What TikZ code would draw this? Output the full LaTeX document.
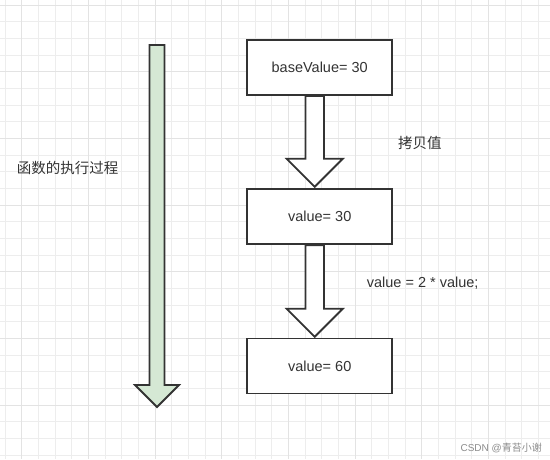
\documentclass[tikz,border=0pt]{standalone}
\usepackage{fontspec}
\setmainfont{Liberation Sans}
\newfontfamily\cjk{Noto Sans CJK SC}
\usetikzlibrary{calc}
\definecolor{flowgreen}{HTML}{D5E8D4}
\definecolor{inkgray}{HTML}{333333}

\newcommand{\blockarrow}[5]{%
  \draw[#1] ($(#2)+(-#4,0)$) -- ($(#3)+(-#4,-#5)$) -- ($(#3)+(-#5,-#5)$) -- (#3)
    -- ($(#3)+(#5,-#5)$) -- ($(#3)+(#4,-#5)$) -- ($(#2)+(#4,0)$) -- cycle;}

\begin{document}
\begin{tikzpicture}[x=1pt,y=-1pt,
  gridline/.style={draw=black!7,line width=0.9pt},
  majorline/.style={draw=black!11,line width=0.9pt},
  valbox/.style={draw=inkgray,line width=1.8pt,fill=white,minimum width=145pt,
    minimum height=55pt,inner sep=0pt,text=inkgray,font=\fontsize{14.5}{17}\selectfont},
  note/.style={anchor=west,inner sep=0pt,text=inkgray,font=\fontsize{14.5}{17}\selectfont},
  hollow/.style={draw=inkgray,line width=1.8pt,fill=white,line join=miter},
  timeline/.style={draw=inkgray,line width=1.8pt,fill=flowgreen,line join=miter}]
  \useasboundingbox (0,0) rectangle (550,459);
  \fill[white] (0,0) rectangle (550,459);
  \foreach \i in {0,...,32} \draw[gridline] (5+16.667*\i,0) -- (5+16.667*\i,459);
  \foreach \i in {0,...,27} \draw[gridline] (0,5+16.667*\i) -- (550,5+16.667*\i);
  \foreach \i in {0,...,7} \draw[majorline] (21.667+66.667*\i,0) -- (21.667+66.667*\i,459);
  \foreach \i in {0,...,6} \draw[majorline] (0,5+66.667*\i) -- (550,5+66.667*\i);

  \coordinate (timeTop) at (157,45);
  \coordinate (timeEnd) at (157,407);
  \blockarrow{timeline}{timeTop}{timeEnd}{7.5}{22}
  \node[note] (process) at (16.7,168.3) {\cjk 函数的执行过程};

  \node[valbox] (base) at (319.7,67.5) {baseValue= 30};
  \node[valbox] (copy) at (319.7,216.7) {value= 30};
  \node[valbox] (twice) at (319.7,366) {value= 60};

  \blockarrow{hollow}{$(base.south)+(-5,0)$}{$(copy.north)+(-5,-1.5)$}{9.2}{28}
  \blockarrow{hollow}{$(copy.south)+(-5,0)$}{$(twice.north)+(-5,-0.8)$}{9.2}{28}

  \node[note] (copylabel) at (398,142.7) {\cjk 拷贝值};
  \node[note] (doublelabel) at (366.7,283.3) {value = 2 * value;};

  \node[anchor=east,inner sep=0pt,text=black!45,font=\fontsize{10}{12}\selectfont] (mark) at (542,448) {CSDN @{\cjk 青苔小谢}};
\end{tikzpicture}
\end{document}
